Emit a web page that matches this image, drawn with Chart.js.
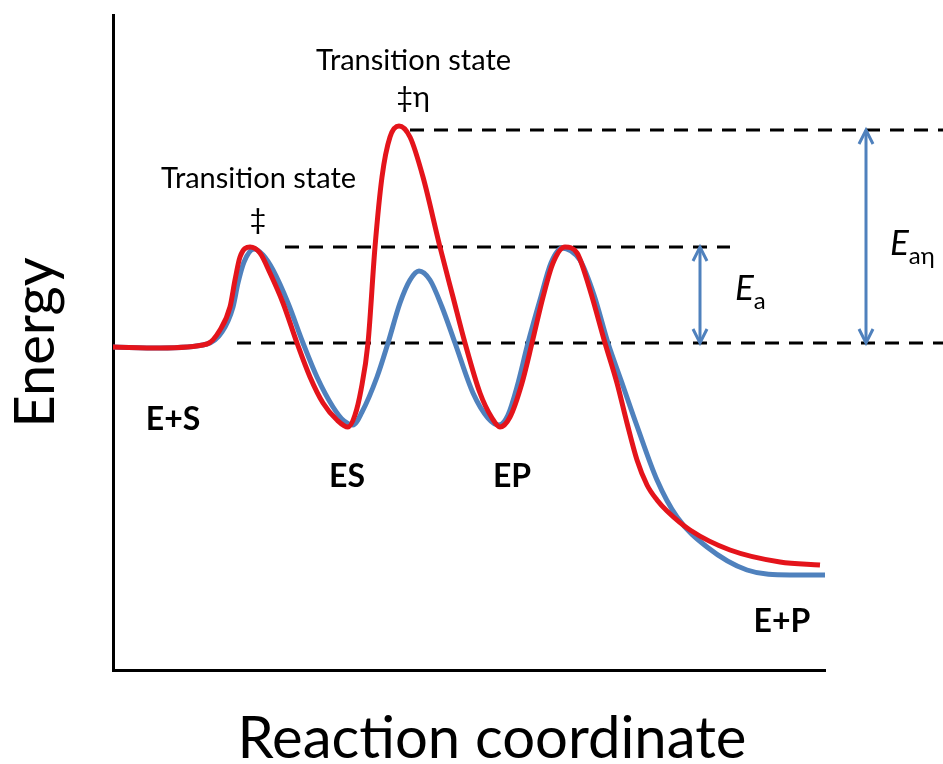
<!DOCTYPE html>
<html><head><meta charset="utf-8">
<script src="https://cdn.jsdelivr.net/npm/chart.js@4.4.1/dist/chart.umd.min.js"></script>
<style>html,body{margin:0;padding:0;background:#fff}canvas{display:block}</style>
</head><body>
<canvas id="c" width="943" height="764"></canvas>
<script>
// ---- Data (arbitrary units: reaction coordinate, energy) ----
// Red path (higher barrier, ‡η)
const pathEtaX = [0,47,94,107,117,122,127,137,147,157,170,184,197,210,224,235,242,248,255,262,269,277,286,297,310,327,340,352,367,379,387,397,409,419,430,440,452,464,477,492,504,514,524,534,544,554,577,617,667,707];
const pathEtaY = [323,322,326,340,363,390,413,423,417,397,367,327,293,267,250,243,255,280,327,423,493,533,544,533,493,423,373,327,277,252,243,253,287,327,373,407,423,417,380,327,287,247,210,185,170,159,140,120,108,105];
// Blue path
const pathX = [0,47,94,109,120,125,131,141,150,160,175,190,204,220,231,240,249,264,275,287,297,306,317,329,342,360,375,386,395,404,415,427,438,449,458,467,481,495,509,524,544,564,594,634,677,712];
const pathY = [323,322,326,338,363,387,408,421,415,400,367,327,293,263,249,245,258,293,327,367,390,399,390,363,327,277,252,245,255,283,327,370,407,422,419,410,375,327,287,244,190,153,123,100,95,95];
// Reference energy levels (dashed)
const levelEnergy = [327, 423, 540];
const levelStart  = [124, 172, 297];
const levelEnd    = [830, 617, 830];
// Activation energy arrows
const arrowX    = [587, 753];
const arrowFrom = [327, 327];
const arrowTo   = [423, 540];
// State / transition labels
const noteText = ['Transition state','‡','Transition state','‡η','E+S','ES','EP','E+P'];
const noteX    = [145.5,145,300.5,300,60,234,399,669];
const noteY    = [482,441,600,563,240,183,183,38];
const noteKind = ['ts','ts','ts','ts','state','state','state','state'];
// Energy labels
const eMain = ['E','E'];
const eSub  = ['a','aη'];
const eX    = [622, 777];
const eY    = [370, 415];
const xTitle = 'Reaction coordinate';
const xTitleX = 379, xTitleY = -88;
const yTitle = 'Energy';

const RED = '#E4141B', BLUE = '#4F81BD', FONT = 'Lato';
const toPts = (xs, ys) => xs.map((v, i) => ({x: v, y: ys[i]}));

const datasets = [
  {data: toPts(pathEtaX, pathEtaY), borderColor: RED, borderWidth: 5, cubicInterpolationMode: 'monotone', pointRadius: 0},
  {data: toPts(pathX, pathY), borderColor: BLUE, borderWidth: 5, cubicInterpolationMode: 'monotone', pointRadius: 0}
];
levelEnergy.forEach((e, i) => datasets.push({
  data: [{x: levelStart[i], y: e}, {x: levelEnd[i], y: e}],
  borderColor: '#000', borderWidth: 3, borderDash: [14, 10], pointRadius: 0, tension: 0, clip: false
}));

const overlay = {
  id: 'overlay',
  afterDatasetsDraw(chart) {
    const {ctx, scales: {x, y}} = chart;
    ctx.save();
    ctx.strokeStyle = BLUE; ctx.lineWidth = 3; ctx.lineJoin = 'miter';
    arrowX.forEach((ax, i) => {
      const px = x.getPixelForValue(ax);
      const p1 = y.getPixelForValue(arrowFrom[i]);
      const p2 = y.getPixelForValue(arrowTo[i]);
      ctx.beginPath(); ctx.moveTo(px, p1); ctx.lineTo(px, p2); ctx.stroke();
      ctx.beginPath(); ctx.moveTo(px - 7, p1 - 14); ctx.lineTo(px, p1); ctx.lineTo(px + 7, p1 - 14); ctx.stroke();
      ctx.beginPath(); ctx.moveTo(px - 7, p2 + 14); ctx.lineTo(px, p2); ctx.lineTo(px + 7, p2 + 14); ctx.stroke();
    });
    ctx.fillStyle = '#000'; ctx.textBaseline = 'alphabetic'; ctx.textAlign = 'center';
    noteText.forEach((t, i) => {
      ctx.font = noteKind[i] === 'ts' ? `29px ${FONT}` : `bold 32px ${FONT}`;
      ctx.fillText(t, x.getPixelForValue(noteX[i]), y.getPixelForValue(noteY[i]));
    });
    ctx.textAlign = 'left';
    eMain.forEach((t, i) => {
      const px = x.getPixelForValue(eX[i]), py = y.getPixelForValue(eY[i]);
      ctx.font = `italic 35px ${FONT}`;
      ctx.fillText(t, px, py);
      const w = ctx.measureText(t).width;
      ctx.font = `24px ${FONT}`;
      ctx.fillText(eSub[i], px + w, py + 9);
    });
    ctx.textAlign = 'center';
    ctx.font = `58px ${FONT}`;
    ctx.fillText(xTitle, x.getPixelForValue(xTitleX), y.getPixelForValue(xTitleY));
    ctx.restore();
  }
};

new Chart(document.getElementById('c'), {
  type: 'line',
  data: {datasets},
  options: {
    responsive: false, animation: false,
    layout: {padding: {left: 0, right: 118, top: 15, bottom: 94}},
    plugins: {legend: {display: false}, tooltip: {enabled: false}},
    scales: {
      x: {type: 'linear', min: 0, max: 712,
          grid: {display: false, drawTicks: false}, ticks: {display: false},
          border: {display: true, color: '#000', width: 3}},
      y: {type: 'linear', min: 0, max: 655,
          grid: {display: false, drawTicks: false}, ticks: {display: false},
          border: {display: true, color: '#000', width: 3},
          title: {display: true, text: yTitle, color: '#000',
                  font: {family: FONT, size: 56, lineHeight: 1},
                  padding: {top: 8, bottom: 49}}}
    }
  },
  plugins: [overlay]
});
</script>
</body></html>
